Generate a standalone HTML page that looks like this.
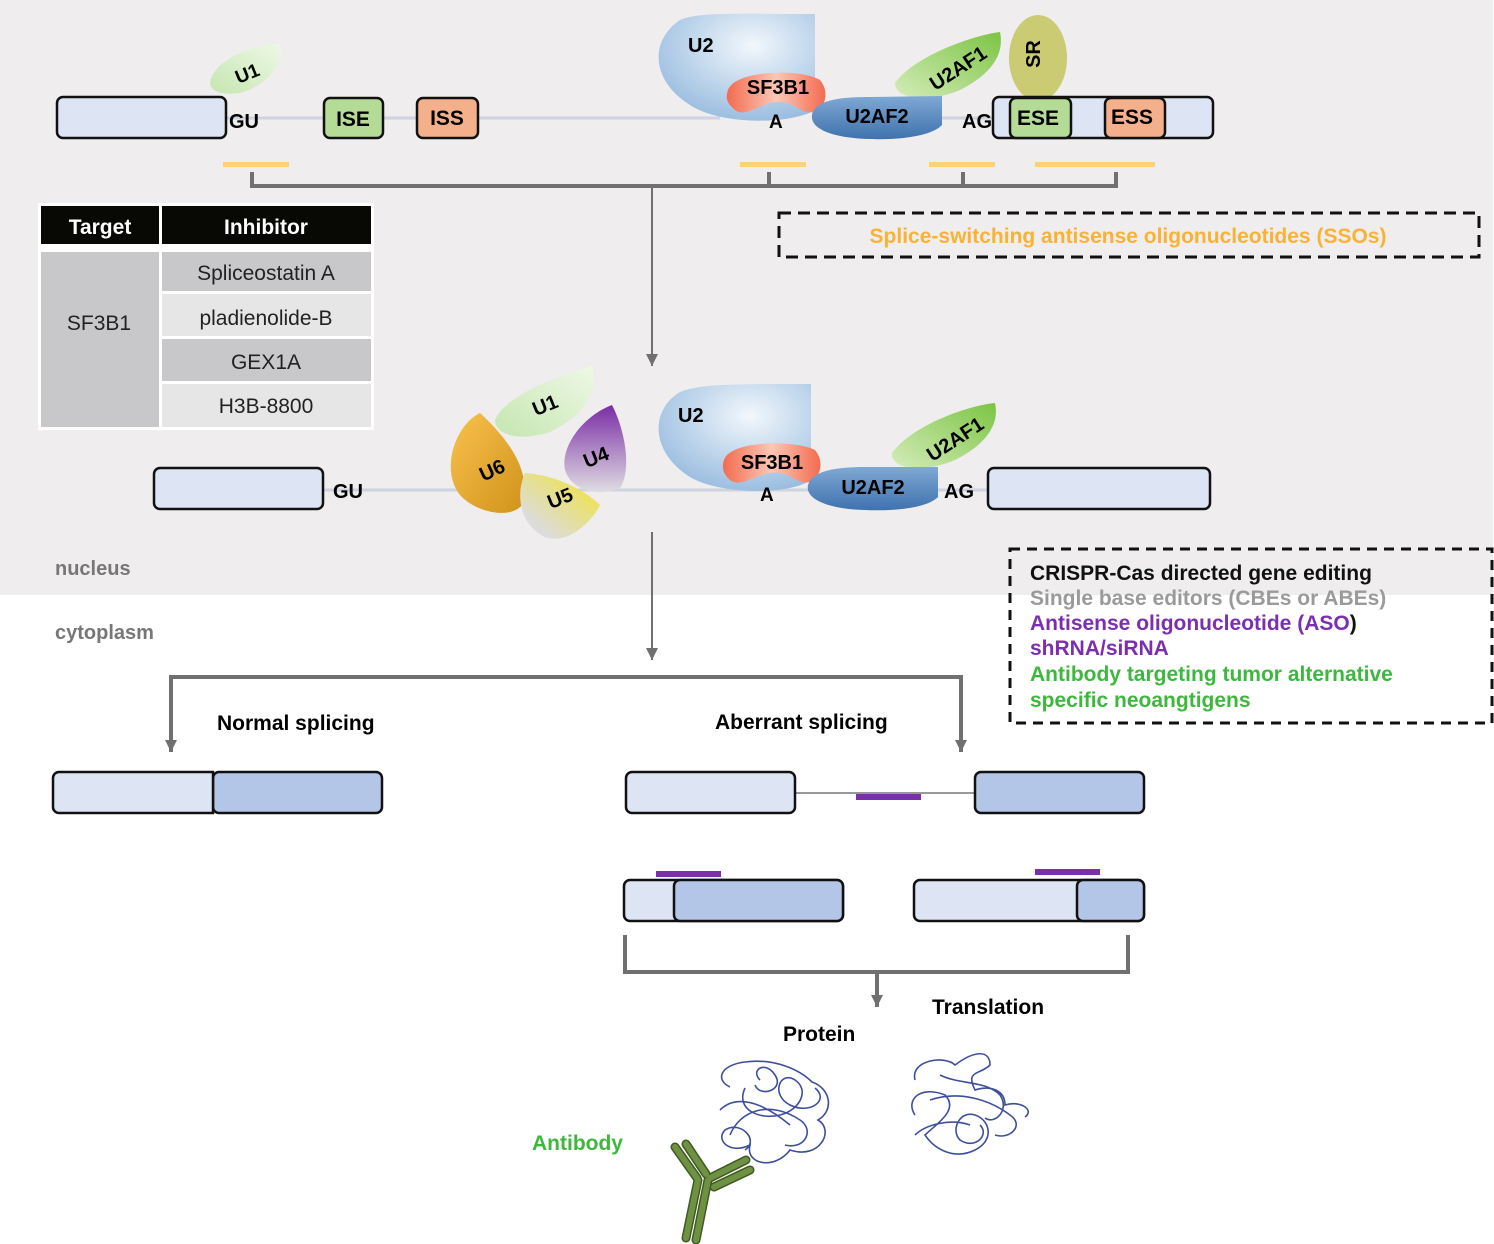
<!DOCTYPE html>
<html><head><meta charset="utf-8"><style>
html,body{margin:0;padding:0;background:#fff}
svg{display:block;font-family:"Liberation Sans",Arial,sans-serif}
.b{font-weight:bold}
</style></head><body>
<svg width="1494" height="1244" viewBox="0 0 1494 1244" xmlns="http://www.w3.org/2000/svg">
<defs>
<radialGradient id="gU2" cx="0.6" cy="0.3" r="0.8"><stop offset="0" stop-color="#f2f7fc"/><stop offset="1" stop-color="#8fb6dc"/></radialGradient>
<linearGradient id="gSF" x1="0" y1="0" x2="1" y2="0"><stop offset="0" stop-color="#f36b4f"/><stop offset="0.5" stop-color="#fcc7b6"/><stop offset="1" stop-color="#f36b4f"/></linearGradient>
<linearGradient id="gAF2" x1="0" y1="0" x2="0" y2="1"><stop offset="0" stop-color="#7fa8d4"/><stop offset="1" stop-color="#3f72ae"/></linearGradient>
<linearGradient id="gAF1" x1="0" y1="1" x2="1" y2="0"><stop offset="0" stop-color="#d4ecba"/><stop offset="1" stop-color="#7cc443"/></linearGradient>
<linearGradient id="gU1" x1="0" y1="1" x2="1" y2="0"><stop offset="0" stop-color="#c5e6b0"/><stop offset="1" stop-color="#eef8e6"/></linearGradient>
<linearGradient id="gU6" x1="0" y1="0" x2="1" y2="1"><stop offset="0" stop-color="#f8c24e"/><stop offset="1" stop-color="#d1921a"/></linearGradient>
<linearGradient id="gU4" x1="0" y1="0" x2="0" y2="1"><stop offset="0" stop-color="#7a2da6"/><stop offset="1" stop-color="#e0dde2"/></linearGradient>
<linearGradient id="gU5" x1="1" y1="0" x2="0" y2="1"><stop offset="0" stop-color="#f3e42b"/><stop offset="0.8" stop-color="#dcdcdc"/></linearGradient>
<marker id="ar" markerWidth="12" markerHeight="12" refX="10" refY="5" orient="auto" markerUnits="userSpaceOnUse" viewBox="0 0 10 10"><path d="M0,0 L10,5 L0,10 Z" fill="#707070"/></marker>
</defs>
<rect x="0" y="0" width="1493" height="595" fill="#efedee"/>

<g font-size="21">
<!-- top row -->
<line x1="226" y1="118" x2="720" y2="118" stroke="#cdd3e0" stroke-width="3"/>
<line x1="930" y1="118" x2="995" y2="118" stroke="#cdd3e0" stroke-width="3"/>
<rect x="57" y="97" width="169" height="41" rx="6" fill="#dde4f3" stroke="#111" stroke-width="2.5"/>
<text x="229" y="128" class="b" font-size="20">GU</text>
<path d="M210,82 C215,58 255,44 280,44 C285,60 270,85 240,93 C222,95 210,92 210,82Z" fill="url(#gU1)"/>
<text x="247" y="80" class="b" font-size="19" transform="rotate(-22 247 73)" text-anchor="middle">U1</text>
<rect x="324" y="98" width="59" height="40" rx="6" fill="#b5dc97" stroke="#111" stroke-width="2.5"/>
<text x="353" y="126" class="b" text-anchor="middle">ISE</text>
<rect x="417" y="98" width="61" height="40" rx="6" fill="#f3b08a" stroke="#111" stroke-width="2.5"/>
<text x="447" y="125" class="b" text-anchor="middle">ISS</text>

<path d="M815,14 L815,110 C790,125 720,125 690,105 C650,80 650,40 680,20 C700,12 730,14 815,14Z" fill="url(#gU2)"/>
<text x="688" y="52" class="b" font-size="20">U2</text>
<path d="M728,90 C735,70 800,68 820,80 C830,92 825,108 815,112 C800,115 795,100 775,102 C760,104 745,118 735,110 C725,102 726,96 728,90Z" fill="url(#gSF)"/>
<text x="778" y="94" class="b" font-size="20" text-anchor="middle">SF3B1</text>
<text x="769" y="128" class="b" font-size="19">A</text>
<path d="M895,83 C915,55 975,35 1000,32 C1005,55 990,75 960,90 C930,103 895,100 895,83Z" fill="url(#gAF1)"/>
<text x="958" y="75" class="b" font-size="20" transform="rotate(-33 958 68)" text-anchor="middle">U2AF1</text>
<path d="M942,96 L942,125 C930,138 890,140 870,139 C830,138 810,128 812,115 C815,100 840,97 870,97 Z" fill="url(#gAF2)"/>
<text x="877" y="123" class="b" font-size="20" text-anchor="middle">U2AF2</text>
<text x="962" y="128" class="b" font-size="20">AG</text>
<ellipse cx="1038" cy="58" rx="29" ry="43" fill="#cacb73"/>
<text x="1046" y="60" class="b" font-size="20" transform="rotate(-90 1040 60)" text-anchor="middle">SR</text>
<rect x="993" y="97" width="220" height="41" rx="6" fill="#dde4f3" stroke="#111" stroke-width="2.5"/>
<rect x="1010" y="98" width="61" height="40" rx="6" fill="#b5dc97" stroke="#111" stroke-width="2.5"/>
<text x="1038" y="125" class="b" text-anchor="middle">ESE</text>
<rect x="1105" y="98" width="60" height="40" rx="6" fill="#f3b08a" stroke="#111" stroke-width="2.5"/>
<text x="1132" y="124" class="b" text-anchor="middle">ESS</text>

<!-- yellow bars & bracket -->
<g fill="#fcd374"><rect x="223" y="162" width="66" height="5"/><rect x="740" y="162" width="66" height="5"/><rect x="929" y="162" width="66" height="5"/><rect x="1035" y="162" width="120" height="5"/></g>
<g stroke="#707070" stroke-width="4" fill="none"><path d="M252,172 V186 H1116 V172"/><line x1="769" y1="172" x2="769" y2="186"/><line x1="963" y1="172" x2="963" y2="186"/></g>
<line x1="652" y1="186" x2="652" y2="366" stroke="#707070" stroke-width="2" marker-end="url(#ar)"/>

<!-- table -->
<rect x="38" y="203" width="336" height="227" fill="#fff"/>
<rect x="41" y="206" width="118" height="38" fill="#080805"/>
<rect x="162" y="206" width="209" height="38" fill="#080805"/>
<text x="100" y="234" class="b" font-size="21" fill="#fff" text-anchor="middle">Target</text>
<text x="266" y="234" class="b" font-size="21" fill="#fff" text-anchor="middle">Inhibitor</text>
<rect x="41" y="252" width="118" height="175" fill="#c8c8ca"/>
<rect x="162" y="252" width="209" height="39" fill="#c8c8ca"/>
<rect x="162" y="294" width="209" height="42" fill="#e6e6e7"/>
<rect x="162" y="339" width="209" height="42" fill="#c8c8ca"/>
<rect x="162" y="384" width="209" height="43" fill="#e6e6e7"/>
<g font-size="21" fill="#222" text-anchor="middle">
<text x="99" y="330">SF3B1</text><text x="266" y="280">Spliceostatin A</text><text x="266" y="325">pladienolide-B</text><text x="266" y="369">GEX1A</text><text x="266" y="413">H3B-8800</text></g>

<!-- SSO box -->
<rect x="779" y="213" width="700" height="44" fill="none" stroke="#111" stroke-width="3" stroke-dasharray="12,7"/>
<text x="1128" y="243" class="b" font-size="21" fill="#f9b233" text-anchor="middle">Splice-switching antisense oligonucleotides (SSOs)</text>

<!-- middle row -->
<line x1="323" y1="490" x2="990" y2="490" stroke="#cdd3e0" stroke-width="3"/>
<rect x="154" y="468" width="169" height="41" rx="6" fill="#dde4f3" stroke="#111" stroke-width="2.5"/>
<text x="333" y="498" class="b" font-size="20">GU</text>
<path d="M495,420 C505,395 560,375 592,366 C600,390 585,415 550,432 C520,442 495,435 495,420Z" fill="url(#gU1)"/>
<text x="545" y="412" class="b" font-size="20" transform="rotate(-22 545 405)" text-anchor="middle">U1</text>
<path d="M480,413 C455,425 440,470 460,495 C475,512 510,520 522,505 C530,480 520,450 480,413Z" fill="url(#gU6)"/>
<text x="492" y="477" class="b" font-size="20" transform="rotate(-25 492 470)" text-anchor="middle">U6</text>
<path d="M612,405 C585,415 560,445 565,470 C572,492 600,497 620,488 C632,470 625,430 612,405Z" fill="url(#gU4)"/>
<text x="596" y="464" class="b" font-size="20" transform="rotate(-22 596 457)" text-anchor="middle">U4</text>
<path d="M525,473 C515,495 520,525 545,537 C565,545 590,525 600,505 C585,490 555,475 525,473Z" fill="url(#gU5)"/>
<text x="560" y="505" class="b" font-size="20" transform="rotate(-22 560 498)" text-anchor="middle">U5</text>
<path d="M811,384 L811,480 C790,495 720,495 690,477 C650,452 650,410 680,392 C700,384 730,384 811,384Z" fill="url(#gU2)"/>
<text x="678" y="422" class="b" font-size="20">U2</text>
<path d="M724,460 C730,440 795,440 815,450 C825,462 820,478 810,482 C795,485 790,470 770,473 C755,475 740,488 730,480 C722,473 722,466 724,460Z" fill="url(#gSF)"/>
<text x="772" y="469" class="b" font-size="20" text-anchor="middle">SF3B1</text>
<text x="760" y="501" class="b" font-size="19">A</text>
<path d="M892,453 C912,425 970,405 995,403 C1000,425 985,445 955,460 C925,473 890,470 892,453Z" fill="url(#gAF1)"/>
<text x="955" y="446" class="b" font-size="20" transform="rotate(-33 955 439)" text-anchor="middle">U2AF1</text>
<path d="M938,467 L938,497 C925,510 885,511 865,510 C825,509 805,498 808,485 C812,471 835,467 865,467 Z" fill="url(#gAF2)"/>
<text x="873" y="494" class="b" font-size="20" text-anchor="middle">U2AF2</text>
<text x="944" y="498" class="b" font-size="20">AG</text>
<rect x="988" y="468" width="222" height="41" rx="6" fill="#dde4f3" stroke="#111" stroke-width="2.5"/>

<text x="55" y="575" class="b" font-size="20" fill="#777">nucleus</text>
<text x="55" y="639" class="b" font-size="20" fill="#777">cytoplasm</text>

<!-- CRISPR box -->
<rect x="1010" y="549" width="482" height="174" fill="none" stroke="#111" stroke-width="3" stroke-dasharray="10,7"/>
<g font-size="21" font-weight="bold">
<text x="1030" y="580" fill="#111">CRISPR-Cas directed gene editing</text>
<text x="1030" y="605" fill="#9a9a9a">Single base editors (CBEs or ABEs)</text>
<text x="1030" y="630" fill="#7b2fb0">Antisense oligonucleotide (ASO<tspan fill="#111">)</tspan></text>
<text x="1030" y="655" fill="#7b2fb0">shRNA/siRNA</text>
<text x="1030" y="681" fill="#3cb93c">Antibody targeting tumor alternative</text>
<text x="1030" y="707" fill="#3cb93c">specific neoangtigens</text>
</g>

<!-- split -->
<line x1="652" y1="532" x2="652" y2="660" stroke="#707070" stroke-width="2" marker-end="url(#ar)"/>
<path d="M171,740 V677 H961 V740" fill="none" stroke="#707070" stroke-width="4"/>
<line x1="171" y1="700" x2="171" y2="752" stroke="#707070" stroke-width="4" marker-end="url(#ar)"/>
<line x1="961" y1="700" x2="961" y2="752" stroke="#707070" stroke-width="4" marker-end="url(#ar)"/>
<text x="217" y="730" class="b" font-size="21">Normal splicing</text>
<text x="715" y="729" class="b" font-size="21">Aberrant splicing</text>

<rect x="213" y="772" width="169" height="41" rx="6" fill="#b3c6e7" stroke="#111" stroke-width="2.5"/>
<path d="M213,772 H59 a6,6 0 0 0 -6,6 V807 a6,6 0 0 0 6,6 H213 Z" fill="#dde4f3" stroke="#111" stroke-width="2.5"/>

<line x1="795" y1="793" x2="975" y2="793" stroke="#999" stroke-width="2"/>
<rect x="856" y="794" width="65" height="6" fill="#7b2fa8"/>
<rect x="626" y="772" width="169" height="41" rx="6" fill="#dde4f3" stroke="#111" stroke-width="2.5"/>
<rect x="975" y="772" width="169" height="41" rx="6" fill="#b3c6e7" stroke="#111" stroke-width="2.5"/>

<rect x="656" y="871" width="65" height="6" fill="#7b2fa8"/>
<rect x="624" y="880" width="219" height="41" rx="6" fill="#dde4f3" stroke="#111" stroke-width="2.5"/>
<rect x="674" y="880" width="169" height="41" rx="6" fill="#b3c6e7" stroke="#111" stroke-width="2.5"/>
<rect x="1035" y="869" width="65" height="6" fill="#7b2fa8"/>
<rect x="914" y="880" width="230" height="41" rx="6" fill="#dde4f3" stroke="#111" stroke-width="2.5"/>
<rect x="1077" y="880" width="67" height="41" rx="6" fill="#b3c6e7" stroke="#111" stroke-width="2.5"/>

<path d="M625,935 V972 H1128 V935" fill="none" stroke="#707070" stroke-width="4"/>
<line x1="877" y1="972" x2="877" y2="1007" stroke="#707070" stroke-width="4" marker-end="url(#ar)"/>
<text x="932" y="1014" class="b" font-size="21">Translation</text>
<text x="783" y="1041" class="b" font-size="21">Protein</text>
<text x="532" y="1150" class="b" font-size="21" fill="#3cb93c">Antibody</text>
</g>

<!-- proteins -->
<g fill="none" stroke="#3e4f9a" stroke-width="1.6">
<path d="M730,1087 C715,1080 720,1065 745,1062 C775,1058 800,1070 812,1082 C830,1088 835,1110 818,1120 C835,1130 820,1160 790,1150 C775,1170 745,1165 750,1145 C730,1155 715,1140 725,1130 C740,1120 760,1140 745,1150 M745,1088 C735,1110 760,1120 780,1115 C800,1110 810,1090 795,1080 C780,1070 770,1095 790,1105 C810,1115 830,1100 815,1088 M760,1080 C750,1070 765,1060 775,1075 C785,1090 760,1098 755,1085 M730,1135 C740,1110 770,1100 800,1120 C815,1130 805,1150 785,1145 M720,1110 C735,1095 760,1100 790,1125"/>
<path d="M915,1080 C910,1060 945,1055 955,1065 C975,1050 990,1050 990,1065 C980,1075 965,1070 975,1090 C990,1085 1005,1090 1005,1105 C1020,1100 1035,1110 1025,1117 M915,1115 C905,1100 920,1085 945,1095 C960,1110 935,1125 925,1135 C935,1150 955,1160 975,1150 C995,1140 990,1120 975,1115 C960,1110 950,1130 960,1140 C975,1150 990,1135 980,1125 M930,1100 C960,1090 990,1100 1010,1115 C1025,1125 1010,1140 995,1135 M940,1075 C960,1085 985,1080 1000,1095 C1010,1110 995,1125 985,1118 M915,1135 C925,1125 950,1118 970,1125"/>
</g>
<!-- antibody -->
<g stroke-linecap="round">
<g stroke="#3f5a22" stroke-width="9">
<line x1="698" y1="1180" x2="686" y2="1238"/><line x1="708" y1="1180" x2="696" y2="1240"/>
<line x1="697" y1="1178" x2="675" y2="1147"/><line x1="706" y1="1174" x2="686" y2="1144"/>
<line x1="710" y1="1178" x2="746" y2="1160"/><line x1="714" y1="1187" x2="750" y2="1170"/>
</g>
<g stroke="#6f9142" stroke-width="6">
<line x1="698" y1="1180" x2="686" y2="1238"/><line x1="708" y1="1180" x2="696" y2="1240"/>
<line x1="697" y1="1178" x2="675" y2="1147"/><line x1="706" y1="1174" x2="686" y2="1144"/>
<line x1="710" y1="1178" x2="746" y2="1160"/><line x1="714" y1="1187" x2="750" y2="1170"/>
</g>
</g>
</svg>
</body></html>
